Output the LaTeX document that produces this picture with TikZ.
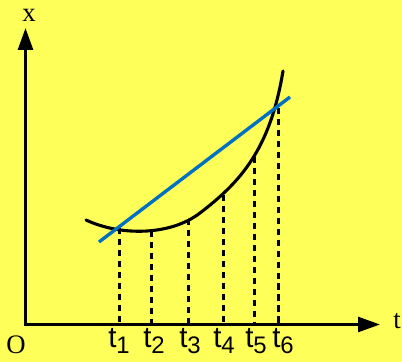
\documentclass[tikz,border=0pt]{standalone}
\usepackage{fontspec}
\setmainfont{Liberation Serif}
\newfontfamily\labfont{Liberation Sans}
\usetikzlibrary{arrows.meta}
\definecolor{bgyellow}{RGB}{255,255,90}
\definecolor{lineblue}{RGB}{0,112,192}
\newcommand{\tsub}[1]{t\raisebox{-4pt}{\fontsize{17}{17}\selectfont #1}}
\tikzset{
  axis/.style={line width=2.1pt, -{Triangle[length=15.5pt, width=10.5pt]}},
  drop/.style={line width=2.1pt, dash pattern=on 4.5pt off 3.3pt},
  tlabel/.style={anchor=north, inner sep=0pt, font=\labfont\fontsize{21}{21}\selectfont},
  axlabel/.style={inner sep=0pt, font=\fontsize{19}{19}\selectfont}
}
\begin{document}
\begin{tikzpicture}[x=0.025cm, y=-0.025cm]
    % Background
    \fill[bgyellow] (0,0) rectangle (402,362);
    \useasboundingbox (0,0) rectangle (402,362);

    % Axes
    \coordinate (O) at (25.5,324.5);
    \coordinate (xtop) at (25.5,28);
    \coordinate (tend) at (380,324.5);
    \draw[axis] ([yshift=-1pt]O) -- (xtop);
    \draw[axis] ([xshift=-1pt]O) -- (tend);
    \node[axlabel] (xlab) at (29,15) {x};
    \node[axlabel] (tlab) at (397,321) {t};
    \node[axlabel] (olab) at (16,345) {O};

    % Dashed drops from the curve
    \foreach \n/\px/\py/\lx in {1/119.5/228/119, 2/151.5/231/154, 3/188.5/219/190,
                                4/223.5/195/224, 5/254.5/157/256, 6/278.5/108/283} {
        \coordinate (c\n) at (\px,\py);
        \coordinate (f\n) at (\px,324.5);
        \draw[drop] (c\n) -- (f\n);
        \node[tlabel] (t\n) at (\lx,328) {\tsub{\n}};
    }

    % Curve x(t)
    \draw[line width=2.2pt, line cap=round] (86,220) .. controls (120,236) and (170,236) .. (200,213)
        .. controls (240,182.3) and (270,150) .. (283,71);

    % Secant line
    \coordinate (s1) at (99,242);
    \coordinate (s2) at (290,97);
    \draw[lineblue, line width=2.4pt] (s1) -- (s2);
\end{tikzpicture}
\end{document}
